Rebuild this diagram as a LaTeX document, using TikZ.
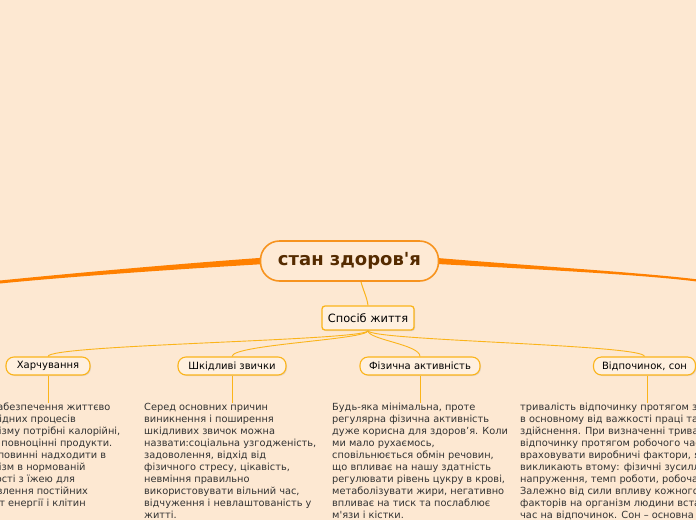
\documentclass[tikz,border=0pt]{standalone}
\usepackage{fontspec}
\newfontfamily\dv{DejaVu Sans}
\usetikzlibrary{shadows}
\definecolor{bg}{HTML}{FDE8D2}
\definecolor{rootfill}{HTML}{FEEAD5}
\definecolor{subfill}{HTML}{FFF0DF}
\definecolor{corange}{HTML}{FF8000}
\definecolor{rootborder}{HTML}{F7931E}
\definecolor{cgold}{HTML}{FBB41A}
\definecolor{rootText}{HTML}{552B00}
\definecolor{bodyText}{HTML}{333333}
\pgfdeclarelayer{background}
\pgfsetlayers{background,main}
\tikzset{
  rootbox/.style={draw=rootborder, line width=1.6pt, fill=rootfill, rounded corners=19pt,
    minimum width=178pt, minimum height=40pt, inner sep=0pt,
    font=\dv\bfseries\fontsize{18}{21}\selectfont, text=rootText},
  lifebox/.style={draw=cgold, line width=1.3pt, fill=subfill, rounded corners=3pt,
    minimum width=92pt, minimum height=24pt, inner sep=0pt,
    font=\dv\fontsize{11.4}{13}\selectfont, text=black,
    drop shadow={shadow xshift=1pt, shadow yshift=-1pt, opacity=0.25}},
  subbox/.style={draw=cgold, line width=1.1pt, fill=subfill, rounded corners=8pt,
    minimum height=18pt, inner sep=0pt,
    font=\dv\fontsize{10}{11}\selectfont, text=black,
    drop shadow={shadow xshift=1pt, shadow yshift=-1pt, opacity=0.2}},
  conn/.style={draw=cgold, line width=0.9pt},
  bodytext/.style={anchor=north west, align=left, inner sep=0pt,
    font=\dv\fontsize{9.8}{12}\selectfont, text=bodyText},
}
\begin{document}
\begin{tikzpicture}[x=1pt,y=-1pt]
\useasboundingbox (0,0) rectangle (696,520);
\clip (0,0) rectangle (696,520);

\node[rootbox] (root) at (349.5,261) {стан здоров'я};
\node[lifebox] (life) at (368,318) {Спосіб життя};

\node[subbox, minimum width=84pt] (s1) at (48,366) {Харчування};
\node[subbox, minimum width=108pt] (s2) at (232,366) {Шкідливі звички};
\node[subbox, minimum width=120pt] (s3) at (420,366) {Фізична активність};
\node[subbox, minimum width=102pt] (s4) at (644.5,366) {Відпочинок, сон};

\coordinate (lend) at (0,282);
\coordinate (rend) at (696,280.3);

\begin{pgfonlayer}{background}
\fill[bg] (0,0) rectangle (696,520);
% main thick branches
\fill[corange] (root.west) ++(2,-3.2) .. controls (160,265.2) and (60,274.5) .. ([yshift=1.5pt]lend)
  -- ([yshift=-1.5pt]lend) .. controls (60,277.5) and (160,270.2) .. ([shift={(2,3.2)}]root.west) -- cycle;
\fill[corange] (root.east) ++(-2,-3) .. controls (540,266.5) and (640,272.5) .. ([yshift=1.1pt]rend)
  -- ([yshift=-1.1pt]rend) .. controls (640,274.5) and (540,269.5) .. ([shift={(-2,3)}]root.east) -- cycle;
% root to life
\draw[conn, line width=1pt] ([xshift=11.5pt]root.south) .. controls +(2,8) and +(-1,-8) .. (life.north);
% life to subs
\draw[conn] (life.south) .. controls +(0,10) and +(0,-12) .. (s1.north);
\draw[conn] (life.south) .. controls +(0,9) and +(0,-12) .. (s2.north);
\draw[conn] (life.south) .. controls +(0,9) and +(0,-12) .. (s3.north);
\draw[conn] (life.south) .. controls +(0,10) and +(0,-12) .. (s4.north);
\end{pgfonlayer}

\node[bodytext] (t1) at (-31,403) {Для забезпечення життєво\\необхідних процесів\\організму потрібні калорійні,\\якісні повноцінні продукти.\\Вони повинні надходити в\\організм в нормованій\\кількості з їжею для\\відновлення постійних\\витрат енергії і клітин};
\node[bodytext] (t2) at (144,403) {Серед основних причин\\виникнення і поширення\\шкідливих звичок можна\\назвати:соціальна узгодженість,\\задоволення, відхід від\\фізичного стресу, цікавість,\\невміння правильно\\використовувати вільний час,\\відчуження і невлаштованість у\\житті.};
\node[bodytext] (t3) at (332,403) {Будь-яка мінімальна, проте\\регулярна фізична активність\\дуже корисна для здоров’я. Коли\\ми мало рухаємось,\\сповільнюється обмін речовин,\\що впливає на нашу здатність\\регулювати рівень цукру в крові,\\метаболізувати жири, негативно\\впливає на тиск та послаблює\\м'язи і кістки.};
\node[bodytext] (t4) at (520,403) {тривалість відпочинку протягом зміни залежить\\в основному від важкості праці та умов її\\здійснення. При визначенні тривалості\\відпочинку протягом робочого часу необхідно\\враховувати виробничі фактори, які\\викликають втому: фізичні зусилля, нервове\\напруження, темп роботи, робоча поза.\\Залежно від сили впливу кожного з\\факторів на організм людини встановлюється\\час на відпочинок. Сон – основна};

\draw[conn] (s1.south) -- (s1.south |- t1.north);
\draw[conn] (s2.south) -- (s2.south |- t2.north);
\draw[conn] (s3.south) -- (s3.south |- t3.north);
\draw[conn] ([xshift=2.5pt]s4.south) -- ([xshift=2.5pt]s4.south |- t4.north);
\end{tikzpicture}
\end{document}
